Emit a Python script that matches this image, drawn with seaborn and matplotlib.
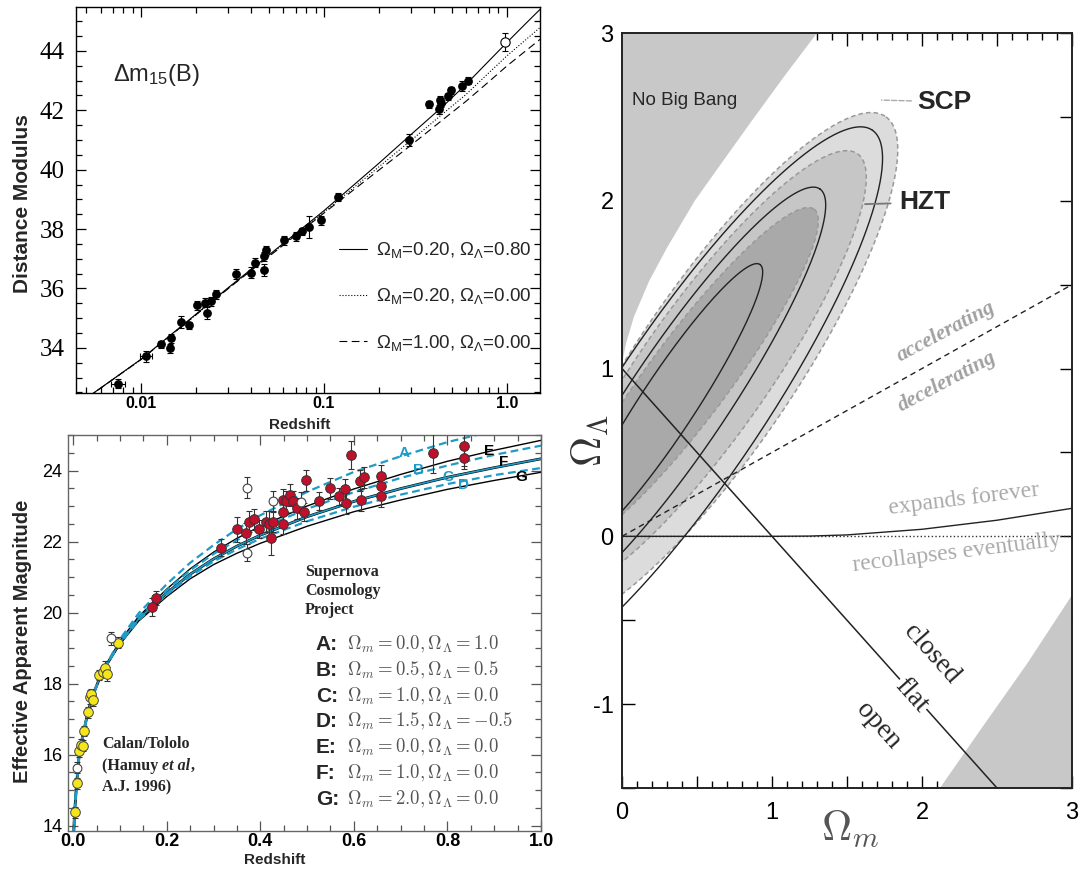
import numpy as np
import matplotlib
matplotlib.use("Agg")
import matplotlib.pyplot as plt
import seaborn as sns
from matplotlib.lines import Line2D
from matplotlib.ticker import MultipleLocator, LogLocator, NullFormatter

sns.set_theme(style="ticks")
plt.rcParams.update({
    "font.family": ["Liberation Sans", "DejaVu Sans"],
    "mathtext.fontset": "custom",
    "mathtext.rm": "Liberation Sans",
    "mathtext.it": "Liberation Sans:italic",
    "mathtext.bf": "Liberation Sans:bold",
    "axes.unicode_minus": False,
    "axes.linewidth": 1.0,
    "axes.edgecolor": "black",
    "xtick.color": "black",
    "ytick.color": "black",
})

# ---------------- Hubble diagram (distance modulus) ----------------
hub_z = [0.0075, 0.0106, 0.0129, 0.0145, 0.0144, 0.0165, 0.0183, 0.0202, 0.0224,
         0.0228, 0.0240, 0.0258, 0.0330, 0.0400, 0.0419, 0.0467, 0.0470, 0.0481,
         0.0606, 0.0703, 0.0758, 0.0829, 0.0961, 0.1195, 0.293, 0.376, 0.427,
         0.429, 0.437, 0.478, 0.496, 0.568, 0.612]
hub_mu = [32.79, 33.72, 34.12, 34.33, 33.98, 34.88, 34.76, 35.44, 35.52,
          35.18, 35.57, 35.80, 36.49, 36.53, 36.87, 36.61, 37.09, 37.31,
          37.62, 37.76, 37.93, 38.07, 38.30, 39.08, 40.99, 42.20, 42.03,
          42.34, 42.26, 42.48, 42.67, 42.82, 42.99]
hub_err = [0.15, 0.18, 0.12, 0.15, 0.15, 0.2, 0.12, 0.15, 0.15,
           0.2, 0.15, 0.15, 0.18, 0.18, 0.15, 0.2, 0.15, 0.12,
           0.15, 0.15, 0.12, 0.38, 0.15, 0.15, 0.2, 0.12, 0.15,
           0.15, 0.15, 0.12, 0.12, 0.18, 0.12]
hub_xerr_z = [0.0075, 0.0106]
hub_xerr_mu = [32.79, 33.72]
hub_xerr = [0.0007, 0.0008]
hub_hollow_z = [0.98]
hub_hollow_mu = [44.30]
hub_hollow_err = [0.30]

model_z = [0.0045, 0.01, 0.03, 0.1, 0.2, 0.3, 0.45, 0.6, 0.8, 1.0, 1.25, 1.55]
mu_lambda = [32.10, 33.62, 36.03, 38.62, 40.22, 41.19, 42.15, 42.88, 43.67, 44.28, 44.88, 45.45]
mu_open = [32.10, 33.61, 36.01, 38.57, 40.10, 40.99, 41.90, 42.54, 43.27, 43.83, 44.34, 44.83]
mu_eds = [32.10, 33.61, 36.00, 38.54, 39.99, 40.83, 41.70, 42.31, 42.97, 43.49, 43.97, 44.43]
legend_om = [0.20, 0.20, 1.00]
legend_ol = [0.80, 0.00, 0.00]

# ---------------- Effective magnitude panel ----------------
ct_z = [0.003, 0.0074, 0.013, 0.016, 0.020, 0.024, 0.032, 0.035, 0.039, 0.042,
        0.056, 0.063, 0.068, 0.072, 0.095]
ct_m = [14.38, 15.19, 16.09, 16.28, 16.25, 16.67, 17.19, 17.62, 17.71, 17.53,
        18.24, 18.33, 18.44, 18.27, 19.15]
ct_err = [0.15, 0.15, 0.15, 0.15, 0.15, 0.15, 0.15, 0.2, 0.15, 0.15,
          0.15, 0.15, 0.2, 0.2, 0.15]

scp_z = [0.169, 0.178, 0.316, 0.351, 0.369, 0.375, 0.386, 0.397, 0.413, 0.419,
         0.428, 0.423, 0.448, 0.449, 0.449, 0.455, 0.464, 0.470, 0.478, 0.494,
         0.498, 0.526, 0.550, 0.569, 0.581, 0.583, 0.594, 0.614, 0.622, 0.616,
         0.659, 0.659, 0.658, 0.769, 0.835, 0.835]
scp_m = [20.16, 20.42, 21.83, 22.35, 22.23, 22.56, 22.63, 22.35, 22.56, 22.50,
         22.56, 22.11, 22.50, 22.83, 23.17, 23.13, 23.31, 23.13, 22.94, 22.83,
         23.72, 23.15, 23.50, 23.27, 23.47, 23.08, 24.44, 23.71, 23.81, 23.17,
         23.85, 23.55, 23.27, 24.49, 24.68, 24.35]
scp_err = [0.25, 0.2, 0.25, 0.35, 0.3, 0.3, 0.3, 0.25, 0.3, 0.35,
           0.3, 0.5, 0.3, 0.3, 0.3, 0.3, 0.3, 0.3, 0.3, 0.25,
           0.3, 0.25, 0.3, 0.25, 0.3, 0.3, 0.4, 0.3, 0.3, 0.3,
           0.3, 0.3, 0.3, 0.55, 0.55, 0.3]

hollow_z = [0.0074, 0.080, 0.371, 0.371, 0.428, 0.488]
hollow_m = [15.63, 19.28, 23.52, 21.69, 23.13, 23.10]
hollow_err = [0.15, 0.18, 0.3, 0.25, 0.3, 0.3]

curve_z = [0.001, 0.003, 0.0075, 0.013, 0.02, 0.03, 0.04, 0.055, 0.07,
           0.1, 0.14, 0.2, 0.25, 0.3, 0.35, 0.4, 0.5, 0.6, 0.7, 0.8, 0.9, 1.0]
low_m = [13.7, 14.35, 15.2, 16.0, 16.5, 17.1, 17.6, 18.1, 18.5]
curve_A = low_m + [19.25, 19.98, 20.80, 21.40, 21.90, 22.35, 22.74, 23.40, 23.96, 24.40, 24.80, 25.12, 25.45]
curve_B = low_m + [19.19, 19.87, 20.63, 21.19, 21.65, 22.04, 22.37, 22.92, 23.39, 23.79, 24.14, 24.44, 24.70]
curve_C = low_m + [19.15, 19.82, 20.55, 21.08, 21.51, 21.87, 22.18, 22.70, 23.13, 23.49, 23.81, 24.08, 24.33]
curve_D = low_m + [19.13, 19.79, 20.50, 21.02, 21.44, 21.78, 22.08, 22.57, 22.98, 23.32, 23.62, 23.87, 24.07]
curve_E = low_m + [19.20, 19.89, 20.66, 21.23, 21.70, 22.09, 22.43, 23.00, 23.48, 23.89, 24.26, 24.57, 24.85]
curve_F = curve_C
curve_G = low_m + [19.11, 19.76, 20.45, 20.95, 21.35, 21.67, 21.95, 22.43, 22.84, 23.17, 23.47, 23.72, 23.95]

model_names = ["A", "B", "C", "D", "E", "F", "G"]
model_om = [0.0, 0.5, 1.0, 1.5, 0.0, 1.0, 2.0]
model_ol = [1.0, 0.5, 0.0, -0.5, 0.0, 0.0, 0.0]
curve_label_z = [0.708, 0.738, 0.800, 0.835, 0.888, 0.921, 0.957]
curve_label_m = [24.49, 24.02, 23.83, 23.60, 24.54, 24.25, 23.83]

# ---------------- Omega_m / Omega_Lambda plane ----------------
nobang_om = [0.0, 0.01, 0.03, 0.08, 0.18, 0.3, 0.485, 0.7, 0.86, 1.08, 1.30]
nobang_ol = [1.0, 1.08, 1.16, 1.31, 1.52, 1.72, 2.0, 2.27, 2.47, 2.74, 3.0]
young_om = [2.12, 2.4, 2.7, 3.0]
young_ol = [-1.5, -1.14, -0.76, -0.35]
flat_om = [0.0, 2.5]
flat_ol = [1.0, -1.5]
accel_om = [0.0, 3.0]
accel_ol = [0.0, 1.5]
recoll_om = [0.0, 1.0, 1.25, 1.5, 2.0, 2.5, 3.0]
recoll_ol = [0.0, 0.0, 0.0015, 0.0085, 0.042, 0.096, 0.167]
zero_om = [0.0, 3.0]
zero_ol = [0.0, 0.0]

# confidence regions: centre, half major axis vector, half minor axis vector
scp_center = [(0.62, 1.00), (0.55, 0.98), (0.45, 0.95)]
scp_axis = [(1.14, 1.50), (1.02, 1.30), (0.83, 1.00)]
scp_width = [(0.43, -0.28), (0.35, -0.22), (0.22, -0.14)]
scp_fill = ["#dcdcdc", "#c6c6c6", "#a9a9a9"]
hzt_center = [(0.45, 0.80), (0.38, 0.82), (0.30, 0.78)]
hzt_axis = [(1.22, 1.62), (0.94, 1.25), (0.62, 0.84)]
hzt_width = [(0.41, -0.26), (0.27, -0.17), (0.15, -0.096)]

W, H = 1091, 869


def rect(l, t, r, b):
    return [l / W, 1 - b / H, (r - l) / W, (b - t) / H]


def ellipse(c, a, w, n=300):
    t = np.linspace(0, 2 * np.pi, n)
    return (c[0] + a[0] * np.cos(t) + w[0] * np.sin(t),
            c[1] + a[1] * np.cos(t) + w[1] * np.sin(t))


fig = plt.figure(figsize=(W / 100, H / 100), dpi=100)
fig.patch.set_facecolor("white")

# ======== top left ========
ax1 = fig.add_axes(rect(76, 7, 540, 393))
ax1.set_xscale("log")
for mu, ls in [(mu_lambda, "-"), (mu_open, ":"), (mu_eds, (0, (7, 4)))]:
    sns.lineplot(x=model_z, y=mu, ax=ax1, color="black", lw=0.8, linestyle=ls,
                 estimator=None, sort=False, legend=False)
ax1.errorbar(hub_z, hub_mu, yerr=hub_err, fmt="none", ecolor="black",
             elinewidth=0.8, capsize=2.5, capthick=0.8, zorder=3)
ax1.errorbar(hub_xerr_z, hub_xerr_mu, xerr=hub_xerr, fmt="none", ecolor="black",
             elinewidth=0.8, capsize=2.5, capthick=0.8, zorder=3)
sns.scatterplot(x=hub_z, y=hub_mu, ax=ax1, s=40, color="black", edgecolor="black",
                linewidth=0, zorder=4)
ax1.errorbar(hub_hollow_z, hub_hollow_mu, yerr=hub_hollow_err, fmt="none",
             ecolor="black", elinewidth=0.8, capsize=2.5, capthick=0.8, zorder=3)
sns.scatterplot(x=hub_hollow_z, y=hub_hollow_mu, ax=ax1, s=45, facecolor="white",
                edgecolor="black", linewidth=0.8, zorder=4)
ax1.set_xlim(0.0044, 1.52)
ax1.set_ylim(32.48, 45.48)
ax1.set_xticks([0.01, 0.1, 1.0])
ax1.set_xticklabels(["0.01", "0.1", "1.0"], fontsize=11.5, fontweight="bold")
ax1.xaxis.set_minor_locator(LogLocator(base=10, subs=np.arange(2, 10)))
ax1.xaxis.set_minor_formatter(NullFormatter())
ax1.set_yticks([34, 36, 38, 40, 42, 44])
ax1.set_yticklabels(["34", "36", "38", "40", "42", "44"], fontsize=18,
                    family="Liberation Serif")
ax1.yaxis.set_minor_locator(MultipleLocator(0.5))
ax1.tick_params(which="both", direction="in", top=True, right=True, width=0.9)
ax1.tick_params(which="major", length=7)
ax1.tick_params(which="minor", length=4)
ax1.tick_params(axis="x", pad=2)
ax1.tick_params(axis="y", pad=8)
ax1.set_xlabel("Redshift", fontsize=11, fontweight="bold")
ax1.xaxis.set_label_coords(0.483, -0.065)
ax1.set_ylabel("Distance Modulus", fontsize=15, fontweight="bold")
ax1.yaxis.label.set(rotation_mode="default", va="center", ha="center")
ax1.yaxis.set_label_coords(-0.116, 0.49)
ax1.text(0.08, 0.825, r"$\Delta$m$_{15}$(B)", transform=ax1.transAxes,
         fontsize=17, va="center", ha="left")
handles = [Line2D([], [], color="black", lw=0.8, ls="-"),
           Line2D([], [], color="black", lw=0.8, ls=":"),
           Line2D([], [], color="black", lw=0.8, ls=(0, (7, 4)))]
labels = [r"$\Omega_{\rm M}$=%.2f, $\Omega_\Lambda$=%.2f" % (om, ol)
          for om, ol in zip(legend_om, legend_ol)]
ax1.legend(handles, labels, loc="center left", bbox_to_anchor=(0.55, 0.25),
           frameon=False, fontsize=13.5, handlelength=1.5, handletextpad=0.5,
           labelspacing=1.4, borderaxespad=0)

# ======== bottom left ========
cyan = "#1f9bc6"
ax2 = fig.add_axes(rect(68, 435, 541, 831))
sns.lineplot(x=curve_z, y=curve_G, ax=ax2, color="black", lw=1.0, estimator=None, sort=False)
sns.lineplot(x=curve_z, y=curve_E, ax=ax2, color="black", lw=1.0, estimator=None, sort=False)
sns.lineplot(x=curve_z, y=curve_F, ax=ax2, color="black", lw=2.0, estimator=None, sort=False)
sns.lineplot(x=curve_z, y=curve_C, ax=ax2, color=cyan, lw=1.2, estimator=None, sort=False)
for cm_ in (curve_A, curve_B, curve_D):
    sns.lineplot(x=curve_z, y=cm_, ax=ax2, color=cyan, lw=1.6, linestyle=(0, (3.5, 2)),
                 estimator=None, sort=False)
ax2.errorbar(ct_z, ct_m, yerr=ct_err, fmt="none", ecolor="#333", elinewidth=0.8,
             capsize=2.5, capthick=0.8, zorder=3)
ax2.errorbar(scp_z, scp_m, yerr=scp_err, fmt="none", ecolor="#333", elinewidth=0.8,
             capsize=2.5, capthick=0.8, zorder=3)
ax2.errorbar(hollow_z, hollow_m, yerr=hollow_err, fmt="none", ecolor="#333",
             elinewidth=0.8, capsize=2.5, capthick=0.8, zorder=3)
sns.scatterplot(x=ct_z, y=ct_m, ax=ax2, s=48, color="#f5e61c", edgecolor="#444",
                linewidth=0.7, zorder=4)
sns.scatterplot(x=scp_z, y=scp_m, ax=ax2, s=48, color="#c20f2b", edgecolor="#333",
                linewidth=0.7, zorder=4)
sns.scatterplot(x=hollow_z, y=hollow_m, ax=ax2, s=40, color="white", edgecolor="#444",
                linewidth=0.8, zorder=4)
for name, zl, ml in zip(model_names, curve_label_z, curve_label_m):
    col = cyan if name in "ABCD" else "black"
    ax2.text(zl, ml, name, color=col, fontsize=11, fontweight="bold",
             ha="center", va="center", zorder=5)
ax2.set_xlim(-0.011, 1.0)
ax2.set_ylim(13.85, 25)
ax2.set_xticks([0.0, 0.2, 0.4, 0.6, 0.8, 1.0])
ax2.set_xticklabels(["0.0", "0.2", "0.4", "0.6", "0.8", "1.0"], fontsize=13,
                    fontweight="bold")
ax2.xaxis.set_minor_locator(MultipleLocator(0.05))
ax2.set_yticks([14, 16, 18, 20, 22, 24])
ax2.set_yticklabels(["14", "16", "18", "20", "22", "24"], fontsize=13)
ax2.yaxis.set_minor_locator(MultipleLocator(0.5))
for sp in ax2.spines.values():
    sp.set_color("#666")
ax2.tick_params(which="both", direction="in", top=True, right=True, width=0.9,
                color="#555")
ax2.tick_params(which="major", length=7)
ax2.tick_params(which="minor", length=4)
ax2.tick_params(axis="x", pad=1.5)
ax2.tick_params(axis="y", pad=4)
ax2.set_xlabel("Redshift", fontsize=11, fontweight="bold")
ax2.xaxis.set_label_coords(0.437, -0.055)
ax2.set_ylabel("Effective Apparent Magnitude", fontsize=14.5, fontweight="bold")
ax2.yaxis.label.set(rotation_mode="default", va="center", ha="center")
ax2.yaxis.set_label_coords(-0.097, 0.48)

ax2.text(0.501, 0.675, "Supernova\nCosmology\nProject", transform=ax2.transAxes,
         family="Liberation Serif", fontweight="bold", fontsize=11.5, va="top",
         ha="left", linespacing=1.25)
ax2.text(0.072, 0.240, "Calan/Tololo", transform=ax2.transAxes,
         family="Liberation Serif", fontweight="bold", fontsize=11.5,
         va="top", ha="left")
t2 = ax2.text(0.072, 0.185, "(Hamuy ", transform=ax2.transAxes,
              family="Liberation Serif", fontweight="bold", fontsize=11.5,
              va="top", ha="left")
t3 = ax2.annotate("et al", xy=(1, 0), xycoords=t2, va="bottom", ha="left",
                  family="Liberation Serif", fontweight="bold", fontstyle="italic",
                  fontsize=11.5)
ax2.annotate(",", xy=(1, 0), xycoords=t3, va="bottom", ha="left",
             family="Liberation Serif", fontweight="bold", fontsize=11.5)
ax2.text(0.072, 0.130, "A.J. 1996)", transform=ax2.transAxes,
         family="Liberation Serif", fontweight="bold", fontsize=11.5,
         va="top", ha="left")

for i, (name, om, ol) in enumerate(zip(model_names, model_om, model_ol)):
    y = 0.471 - i * 0.0652
    ax2.text(0.524, y, name + ":", transform=ax2.transAxes, fontsize=15,
             fontweight="bold", va="center", ha="left")
    ax2.text(0.59, y, r"$\Omega_m = %.1f, \Omega_\Lambda = %.1f$" % (om, ol),
             transform=ax2.transAxes, fontsize=13.5, va="center", ha="left",
             color="#555", math_fontfamily="cm")

# ======== right ========
ax3 = fig.add_axes(rect(622, 33, 1072, 788))
gray = "#c8c8c8"
ax3.fill(list(nobang_om) + [0.0], list(nobang_ol) + [3.0], color=gray, lw=0, zorder=1)
ax3.fill(list(young_om) + [3.0], list(young_ol) + [-1.5], color=gray, lw=0, zorder=1)
for c, a, w, fc in zip(scp_center, scp_axis, scp_width, scp_fill):
    ex, ey = ellipse(c, a, w)
    ax3.fill(ex, ey, facecolor=fc, edgecolor="#999999", lw=1.1,
             linestyle=(0, (3, 2)), zorder=2)
for c, a, w in zip(hzt_center, hzt_axis, hzt_width):
    ex, ey = ellipse(c, a, w)
    ax3.plot(ex, ey, color="#222", lw=1.0, zorder=3)
sns.lineplot(x=zero_om, y=zero_ol, ax=ax3, color="#333", lw=1.0, linestyle=":",
             estimator=None, sort=False, zorder=4)
sns.lineplot(x=recoll_om, y=recoll_ol, ax=ax3, color="#222", lw=1.0,
             estimator=None, sort=False, zorder=4)
sns.lineplot(x=accel_om, y=accel_ol, ax=ax3, color="#222", lw=1.0,
             linestyle=(0, (4, 3)), estimator=None, sort=False, zorder=4)
sns.lineplot(x=flat_om, y=flat_ol, ax=ax3, color="#222", lw=1.1,
             estimator=None, sort=False, zorder=4)

ax3.set_xlim(0, 3)
ax3.set_ylim(-1.5, 3)
serif = "Liberation Serif"
ang_flat = -48.2
ax3.text(2.06, -0.70, "closed", family=serif, fontsize=20, rotation=ang_flat,
         ha="center", va="center", zorder=6)
ax3.text(1.93, -0.95, "flat", family=serif, fontsize=20, rotation=ang_flat,
         ha="center", va="center", zorder=6,
         bbox=dict(facecolor="white", edgecolor="none", pad=1))
ax3.text(1.71, -1.13, "open", family=serif, fontsize=20, rotation=ang_flat,
         ha="center", va="center", zorder=6)
ax3.text(2.16, 1.22, "accelerating", family=serif, fontsize=15.5, rotation=28,
         ha="center", va="center", color="#a0a0a0", fontweight="bold",
         fontstyle="italic", zorder=6)
ax3.text(2.17, 0.92, "decelerating", family=serif, fontsize=15.5, rotation=28,
         ha="center", va="center", color="#a0a0a0", fontweight="bold",
         fontstyle="italic", zorder=6)
ax3.text(2.28, 0.22, "expands forever", family=serif, fontsize=17, rotation=7,
         ha="center", va="center", color="#aaaaaa", zorder=6)
ax3.text(2.23, -0.10, "recollapses eventually", family=serif, fontsize=17,
         rotation=7, ha="center", va="center", color="#aaaaaa", zorder=6)
ax3.text(0.07, 2.6, "No Big Bang", fontsize=13.5, ha="left", va="center", zorder=6)
ax3.annotate("SCP", xy=(1.73, 2.6), xytext=(1.97, 2.59), fontsize=19,
             fontweight="bold", va="center", ha="left", zorder=6,
             arrowprops=dict(arrowstyle="-", color="#aaaaaa", ls="--", lw=1,
                             shrinkA=2, shrinkB=0))
ax3.annotate("HZT", xy=(1.62, 1.98), xytext=(1.85, 1.99), fontsize=19,
             fontweight="bold", va="center", ha="left", zorder=6,
             arrowprops=dict(arrowstyle="-", color="#777777", lw=1.3,
                             shrinkA=4, shrinkB=0))

major_x = np.arange(0, 3.01, 0.5)
ax3.set_xticks(major_x)
ax3.set_xticklabels(["%d" % v if v == int(v) else "" for v in major_x], fontsize=17)
ax3.xaxis.set_minor_locator(MultipleLocator(0.1))
major_y = np.arange(-1.5, 3.01, 0.5)
ax3.set_yticks(major_y)
ax3.set_yticklabels(["%d" % v if v == int(v) else "" for v in major_y], fontsize=17)
ax3.tick_params(which="both", direction="in", top=True, right=True, width=1.0)
ax3.tick_params(which="major", length=9, pad=6)
ax3.tick_params(which="minor", length=5)
ax3.tick_params(axis="x", pad=10)
for sp in ax3.spines.values():
    sp.set_linewidth(1.4)
    sp.set_color("#222")
ax3.set_xlabel(r"$\Omega_m$", fontsize=30, color="#555", math_fontfamily="cm")
ax3.xaxis.set_label_coords(0.507, -0.055)
ax3.xaxis.label.set(va="center")
ax3.set_ylabel(r"$\Omega_\Lambda$", fontsize=30, color="#333", math_fontfamily="cm")
ax3.yaxis.label.set(rotation_mode="default", va="center", ha="center")
ax3.yaxis.set_label_coords(-0.07, 0.461)

fig.savefig("out.png", dpi=100, facecolor="white")
